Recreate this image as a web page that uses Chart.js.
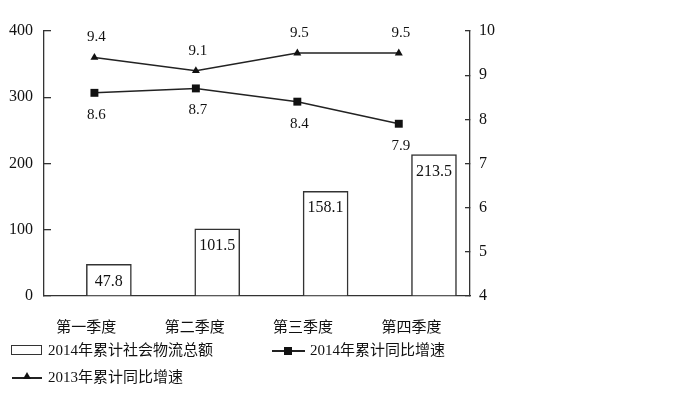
<!DOCTYPE html>
<html>
<head>
<meta charset="utf-8">
<script src="https://cdn.jsdelivr.net/npm/chart.js@4"></script>
<style>
  body { margin: 0; background: #fff; }
  #wrap { position: relative; width: 673px; height: 399px; }
  #chart { position: absolute; left: 0; top: 0; }
  .lg { position: absolute; font: 15px "Liberation Serif", "Noto Sans CJK SC", serif; color: #111; line-height: 18px; white-space: nowrap; }
  .ico { position: absolute; }
</style>
</head>
<body>
<div id="wrap">
  <canvas id="chart" width="673" height="399"></canvas>

  <!-- legend -->
  <div class="ico" style="left:11px;top:345px;width:29px;height:8px;border:1.3px solid #333;"></div>
  <div class="lg" style="left:48px;top:341px;">2014年累计社会物流总额</div>

  <div class="ico" style="left:272px;top:350px;width:33px;height:1.5px;background:#222;"></div>
  <div class="ico" style="left:284px;top:347px;width:8px;height:8px;background:#111;"></div>
  <div class="lg" style="left:310px;top:341px;">2014年累计同比增速</div>

  <div class="ico" style="left:12px;top:377px;width:30px;height:1.5px;background:#222;"></div>
  <div class="ico" style="left:23px;top:372px;width:0;height:0;border-left:4px solid transparent;border-right:4px solid transparent;border-bottom:7px solid #111;"></div>
  <div class="lg" style="left:48px;top:368px;">2013年累计同比增速</div>
</div>

<script>
// ---- data ----
const categories = ['第一季度', '第二季度', '第三季度', '第四季度'];
const totals2014 = [47.8, 101.5, 158.1, 213.5];
const speed2014 = [8.6, 8.7, 8.4, 7.9];
const speed2013 = [9.4, 9.1, 9.5, 9.5];
const leftTicks = [0, 100, 200, 300, 400];
const rightTicks = [4, 5, 6, 7, 8, 9, 10];

const numFont = '"Liberation Serif", "Noto Sans CJK SC", serif';

// value labels on bars and points
const valueLabels = {
  id: 'valueLabels',
  afterDatasetsDraw(chart) {
    const c = chart.ctx;
    c.save();
    c.fillStyle = '#111';
    c.textAlign = 'center';
    c.textBaseline = 'middle';
    chart.data.datasets.forEach((ds, i) => {
      const meta = chart.getDatasetMeta(i);
      meta.data.forEach((el, j) => {
        const val = ds.data[j].y;
        if (ds.type === 'line') {
          c.font = '15px ' + numFont;
          const dy = ds.labelBelow ? 22 : -20;
          c.fillText(val.toFixed(1), el.x + 2, el.y + dy);
        } else {
          c.font = '16px ' + numFont;
          c.fillText(val.toFixed(1), el.x, el.y + 17);
        }
      });
    });
    c.restore();
  }
};

new Chart(document.getElementById('chart'), {
  type: 'bar',
  data: {
    datasets: [
      {
        type: 'line',
        label: '2014年累计同比增速',
        data: speed2014.map((v, i) => ({ x: i, y: v })),
        xAxisID: 'x2',
        yAxisID: 'y1',
        borderColor: '#222',
        borderWidth: 1.5,
        pointStyle: 'rect',
        pointRadius: 5.6,
        pointBackgroundColor: '#111',
        pointBorderColor: '#111',
        pointBorderWidth: 0,
        labelBelow: true,
        order: 1
      },
      {
        type: 'line',
        label: '2013年累计同比增速',
        data: speed2013.map((v, i) => ({ x: i, y: v })),
        xAxisID: 'x2',
        yAxisID: 'y1',
        borderColor: '#222',
        borderWidth: 1.5,
        pointStyle: 'triangle',
        pointRadius: 4.6,
        pointBackgroundColor: '#111',
        pointBorderColor: '#111',
        pointBorderWidth: 0,
        order: 1
      },
      {
        type: 'bar',
        label: '2014年累计社会物流总额',
        data: totals2014.map((v, i) => ({ x: i, y: v })),
        xAxisID: 'x',
        yAxisID: 'y',
        backgroundColor: '#fff',
        borderColor: '#333',
        borderWidth: 1.5,
        barThickness: 45,
        order: 2
      }
    ]
  },
  options: {
    responsive: false,
    animation: false,
    layout: { padding: { top: 31, left: 0, right: 163, bottom: 63 } },
    plugins: {
      legend: { display: false },
      tooltip: { enabled: false }
    },
    scales: {
      x: {
        type: 'linear',
        position: 'bottom',
        offset: false,
        min: -0.391,
        max: 3.54,
        grid: { display: false, drawTicks: false, offset: false },
        border: { display: true, color: '#333', width: 1.3 },
        afterBuildTicks: s => { s.ticks = categories.map((c, i) => ({ value: i })); },
        ticks: {
          padding: 23,
          color: '#111',
          font: { family: numFont, size: 15 },
          callback: v => categories[v] || ''
        },
        afterFit: s => { s.height = 40; }
      },
      x2: {
        type: 'linear',
        display: false,
        offset: false,
        min: -0.497,
        max: 3.702
      },
      y: {
        position: 'left',
        min: 0,
        max: 400,
        afterBuildTicks: s => { s.ticks = leftTicks.map(v => ({ value: v })); },
        grid: { drawOnChartArea: false, drawTicks: true, tickLength: -7, color: '#333', lineWidth: 1.3 },
        border: { display: true, color: '#333', width: 1.3 },
        ticks: { padding: 18, color: '#111', font: { family: numFont, size: 16 } },
        afterFit: s => { s.width = 44; }
      },
      y1: {
        position: 'right',
        min: 4,
        max: 10,
        afterBuildTicks: s => { s.ticks = rightTicks.map(v => ({ value: v })); },
        grid: { drawOnChartArea: false, drawTicks: true, tickLength: -5, color: '#333', lineWidth: 1.3 },
        border: { display: true, color: '#333', width: 1.3 },
        ticks: { padding: 14, color: '#111', font: { family: numFont, size: 16 } },
        afterFit: s => { s.width = 40; }
      }
    }
  },
  plugins: [valueLabels]
});
</script>
</body>
</html>
